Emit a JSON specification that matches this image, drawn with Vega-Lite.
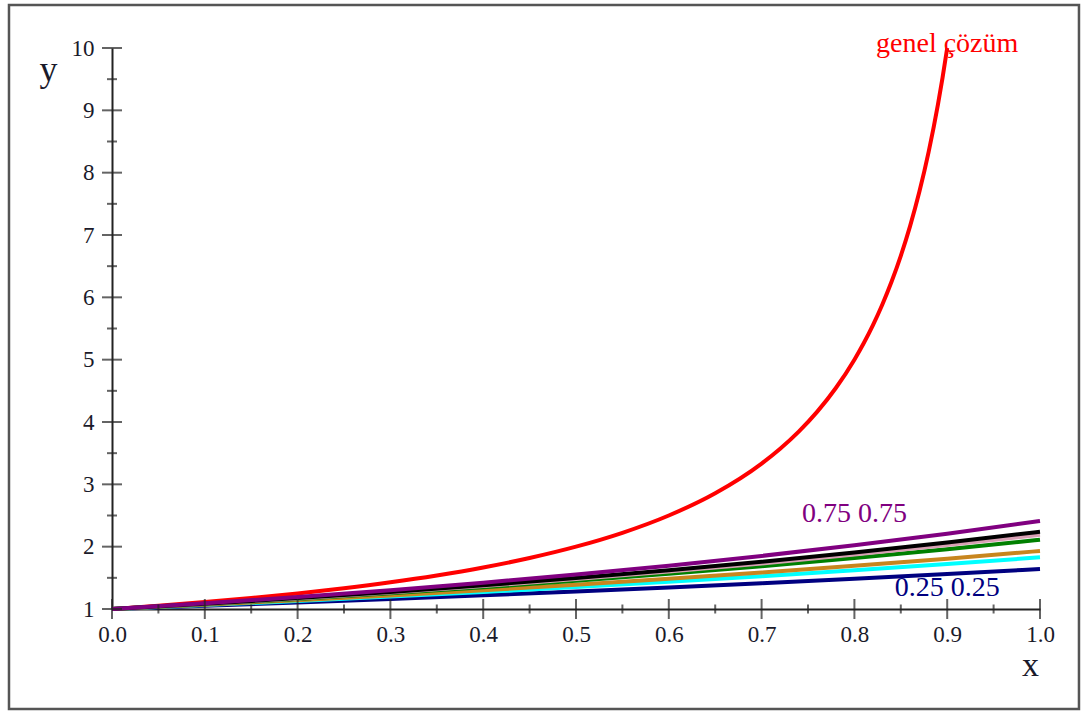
{
  "$schema": "https://vega.github.io/schema/vega-lite/v6.json",
  "width": 928,
  "height": 561,
  "autosize": "none",
  "padding": {"left": 112, "top": 48, "right": 46, "bottom": 104},
  "background": "white",
  "config": {"view": {"stroke": null}, "font": "Liberation Serif"},
  "datasets": {
    "curves": [
      {"s": "genel çözüm", "x": 0, "y": 1}, {"s": "genel çözüm", "x": 0.05, "y": 1.0526}, {"s": "genel çözüm", "x": 0.1, "y": 1.1111}, {"s": "genel çözüm", "x": 0.15, "y": 1.1765}, {"s": "genel çözüm", "x": 0.2, "y": 1.25}, {"s": "genel çözüm", "x": 0.25, "y": 1.3333}, {"s": "genel çözüm", "x": 0.3, "y": 1.4286}, {"s": "genel çözüm", "x": 0.35, "y": 1.5385}, {"s": "genel çözüm", "x": 0.4, "y": 1.6667}, {"s": "genel çözüm", "x": 0.45, "y": 1.8182}, {"s": "genel çözüm", "x": 0.5, "y": 2}, {"s": "genel çözüm", "x": 0.55, "y": 2.2222}, {"s": "genel çözüm", "x": 0.6, "y": 2.5}, {"s": "genel çözüm", "x": 0.65, "y": 2.8571}, {"s": "genel çözüm", "x": 0.7, "y": 3.3333}, {"s": "genel çözüm", "x": 0.72, "y": 3.5714}, {"s": "genel çözüm", "x": 0.74, "y": 3.8462}, {"s": "genel çözüm", "x": 0.76, "y": 4.1667}, {"s": "genel çözüm", "x": 0.78, "y": 4.5455}, {"s": "genel çözüm", "x": 0.8, "y": 5}, {"s": "genel çözüm", "x": 0.81, "y": 5.2632}, {"s": "genel çözüm", "x": 0.82, "y": 5.5556}, {"s": "genel çözüm", "x": 0.83, "y": 5.8824}, {"s": "genel çözüm", "x": 0.84, "y": 6.25}, {"s": "genel çözüm", "x": 0.85, "y": 6.6667}, {"s": "genel çözüm", "x": 0.86, "y": 7.1429}, {"s": "genel çözüm", "x": 0.87, "y": 7.6923}, {"s": "genel çözüm", "x": 0.88, "y": 8.3333}, {"s": "genel çözüm", "x": 0.89, "y": 9.0909}, {"s": "genel çözüm", "x": 0.895, "y": 9.5238}, {"s": "genel çözüm", "x": 0.9, "y": 10},
      {"s": "0.25 0.25", "x": 0, "y": 1}, {"s": "0.25 0.25", "x": 0.1, "y": 1.0507}, {"s": "0.25 0.25", "x": 0.2, "y": 1.1041}, {"s": "0.25 0.25", "x": 0.3, "y": 1.1601}, {"s": "0.25 0.25", "x": 0.4, "y": 1.219}, {"s": "0.25 0.25", "x": 0.5, "y": 1.2808}, {"s": "0.25 0.25", "x": 0.6, "y": 1.3459}, {"s": "0.25 0.25", "x": 0.7, "y": 1.4141}, {"s": "0.25 0.25", "x": 0.8, "y": 1.4859}, {"s": "0.25 0.25", "x": 0.9, "y": 1.5613}, {"s": "0.25 0.25", "x": 1, "y": 1.6405},
      {"s": "s2", "x": 0, "y": 1}, {"s": "s2", "x": 0.1, "y": 1.0623}, {"s": "s2", "x": 0.2, "y": 1.1284}, {"s": "s2", "x": 0.3, "y": 1.1987}, {"s": "s2", "x": 0.4, "y": 1.2733}, {"s": "s2", "x": 0.5, "y": 1.3526}, {"s": "s2", "x": 0.6, "y": 1.4368}, {"s": "s2", "x": 0.7, "y": 1.5263}, {"s": "s2", "x": 0.8, "y": 1.6213}, {"s": "s2", "x": 0.9, "y": 1.7222}, {"s": "s2", "x": 1, "y": 1.8294},
      {"s": "s3", "x": 0, "y": 1}, {"s": "s3", "x": 0.1, "y": 1.068}, {"s": "s3", "x": 0.2, "y": 1.1407}, {"s": "s3", "x": 0.3, "y": 1.2182}, {"s": "s3", "x": 0.4, "y": 1.3011}, {"s": "s3", "x": 0.5, "y": 1.3896}, {"s": "s3", "x": 0.6, "y": 1.4841}, {"s": "s3", "x": 0.7, "y": 1.585}, {"s": "s3", "x": 0.8, "y": 1.6928}, {"s": "s3", "x": 0.9, "y": 1.808}, {"s": "s3", "x": 1, "y": 1.931},
      {"s": "s4", "x": 0, "y": 1}, {"s": "s4", "x": 0.1, "y": 1.0776}, {"s": "s4", "x": 0.2, "y": 1.1611}, {"s": "s4", "x": 0.3, "y": 1.2512}, {"s": "s4", "x": 0.4, "y": 1.3482}, {"s": "s4", "x": 0.5, "y": 1.4528}, {"s": "s4", "x": 0.6, "y": 1.5655}, {"s": "s4", "x": 0.7, "y": 1.6869}, {"s": "s4", "x": 0.8, "y": 1.8177}, {"s": "s4", "x": 0.9, "y": 1.9587}, {"s": "s4", "x": 1, "y": 2.1106},
      {"s": "s5", "x": 0, "y": 1}, {"s": "s5", "x": 0.1, "y": 1.0816}, {"s": "s5", "x": 0.2, "y": 1.1698}, {"s": "s5", "x": 0.3, "y": 1.2652}, {"s": "s5", "x": 0.4, "y": 1.3684}, {"s": "s5", "x": 0.5, "y": 1.4799}, {"s": "s5", "x": 0.6, "y": 1.6006}, {"s": "s5", "x": 0.7, "y": 1.7312}, {"s": "s5", "x": 0.8, "y": 1.8724}, {"s": "s5", "x": 0.9, "y": 2.0251}, {"s": "s5", "x": 1, "y": 2.1903},
      {"s": "s6", "x": 0, "y": 1}, {"s": "s6", "x": 0.1, "y": 1.0839}, {"s": "s6", "x": 0.2, "y": 1.1749}, {"s": "s6", "x": 0.3, "y": 1.2735}, {"s": "s6", "x": 0.4, "y": 1.3804}, {"s": "s6", "x": 0.5, "y": 1.4963}, {"s": "s6", "x": 0.6, "y": 1.6219}, {"s": "s6", "x": 0.7, "y": 1.758}, {"s": "s6", "x": 0.8, "y": 1.9056}, {"s": "s6", "x": 0.9, "y": 2.0656}, {"s": "s6", "x": 1, "y": 2.239},
      {"s": "0.75 0.75", "x": 0, "y": 1}, {"s": "0.75 0.75", "x": 0.1, "y": 1.092}, {"s": "0.75 0.75", "x": 0.2, "y": 1.1924}, {"s": "0.75 0.75", "x": 0.3, "y": 1.3021}, {"s": "0.75 0.75", "x": 0.4, "y": 1.4219}, {"s": "0.75 0.75", "x": 0.5, "y": 1.5527}, {"s": "0.75 0.75", "x": 0.6, "y": 1.6955}, {"s": "0.75 0.75", "x": 0.7, "y": 1.8515}, {"s": "0.75 0.75", "x": 0.8, "y": 2.0218}, {"s": "0.75 0.75", "x": 0.9, "y": 2.2078}, {"s": "0.75 0.75", "x": 1, "y": 2.4109}
    ],
    "labels": [
      {"s": "genel çözüm", "x": 0.9, "y": 9.93},
      {"s": "0.75 0.75", "x": 0.8, "y": 2.4},
      {"s": "0.25 0.25", "x": 0.9, "y": 1.21}
    ],
    "xticks": [
      {"v": 0, "major": true}, {"v": 0.05, "major": false}, {"v": 0.1, "major": true}, {"v": 0.15, "major": false}, {"v": 0.2, "major": true}, {"v": 0.25, "major": false}, {"v": 0.3, "major": true}, {"v": 0.35, "major": false}, {"v": 0.4, "major": true}, {"v": 0.45, "major": false}, {"v": 0.5, "major": true}, {"v": 0.55, "major": false}, {"v": 0.6, "major": true}, {"v": 0.65, "major": false}, {"v": 0.7, "major": true}, {"v": 0.75, "major": false}, {"v": 0.8, "major": true}, {"v": 0.85, "major": false}, {"v": 0.9, "major": true}, {"v": 0.95, "major": false}, {"v": 1, "major": true}
    ],
    "yticks": [
      {"v": 1, "major": true}, {"v": 1.5, "major": false}, {"v": 2, "major": true}, {"v": 2.5, "major": false}, {"v": 3, "major": true}, {"v": 3.5, "major": false}, {"v": 4, "major": true}, {"v": 4.5, "major": false}, {"v": 5, "major": true}, {"v": 5.5, "major": false}, {"v": 6, "major": true}, {"v": 6.5, "major": false}, {"v": 7, "major": true}, {"v": 7.5, "major": false}, {"v": 8, "major": true}, {"v": 8.5, "major": false}, {"v": 9, "major": true}, {"v": 9.5, "major": false}, {"v": 10, "major": true}
    ],
    "frame": [{"id": "frame"}]
  },
  "layer": [
    {
      "data": {"name": "curves"},
      "mark": {"type": "line", "strokeWidth": 4, "interpolate": "monotone", "clip": false},
      "encoding": {
        "x": {
          "field": "x", "type": "quantitative",
          "scale": {"domain": [0, 1], "nice": false, "zero": false},
          "axis": {
            "values": [0, 0.1, 0.2, 0.3, 0.4, 0.5, 0.6, 0.7, 0.8, 0.9, 1],
            "format": ".1f", "ticks": false, "grid": false,
            "domainColor": "#222", "domainWidth": 2,
            "labelFont": "Liberation Serif", "labelFontSize": 23, "labelColor": "#1a1a2a",
            "labelPadding": 14, "labelFlush": false,
            "title": "x", "titleFont": "Liberation Serif", "titleFontSize": 34, "titleFontWeight": "normal", "titleColor": "#1a1a2a",
            "titleX": 918, "titleY": 66, "titleAlign": "center", "titleBaseline": "alphabetic"
          }
        },
        "y": {
          "field": "y", "type": "quantitative",
          "scale": {"domain": [1, 10], "nice": false, "zero": false},
          "axis": {
            "values": [1, 2, 3, 4, 5, 6, 7, 8, 9, 10],
            "format": "d", "ticks": false, "grid": false,
            "domainColor": "#222", "domainWidth": 2,
            "labelFont": "Liberation Serif", "labelFontSize": 23, "labelColor": "#1a1a2a",
            "labelPadding": 18, "labelFlush": false,
            "title": "y", "titleFont": "Liberation Serif", "titleFontSize": 36, "titleFontWeight": "normal", "titleColor": "#1a1a2a",
            "titleAngle": 0, "titleX": -64, "titleY": 32, "titleAlign": "center", "titleBaseline": "alphabetic"
          }
        },
        "color": {
          "field": "s", "type": "nominal", "legend": null,
          "scale": {
            "domain": ["genel çözüm", "0.25 0.25", "s2", "s3", "s4", "s5", "s6", "0.75 0.75"],
            "range": ["#ff0000", "#000080", "#00ffff", "#c8861e", "#008000", "#d8a0b4", "#000000", "#800080"]
          }
        }
      }
    },
    {
      "data": {"name": "frame"},
      "mark": {"type": "rect", "filled": false, "stroke": "#555555", "strokeWidth": 2.5, "clip": false},
      "encoding": {
        "x": {"datum": -0.111, "type": "quantitative"},
        "x2": {"datum": 1.042},
        "y": {"datum": 10.69, "type": "quantitative"},
        "y2": {"datum": -0.604}
      }
    },
    {
      "data": {"name": "xticks"},
      "mark": {"type": "tick", "orient": "vertical", "color": "#222", "thickness": 2, "clip": false},
      "encoding": {
        "x": {"field": "v", "type": "quantitative"},
        "y": {"datum": 1, "type": "quantitative"},
        "size": {"condition": {"test": "datum.major", "value": 20}, "value": 9}
      }
    },
    {
      "data": {"name": "yticks"},
      "mark": {"type": "tick", "orient": "horizontal", "color": "#222", "thickness": 2, "clip": false},
      "encoding": {
        "y": {"field": "v", "type": "quantitative"},
        "x": {"datum": 0, "type": "quantitative"},
        "size": {"condition": {"test": "datum.major", "value": 20}, "value": 10}
      }
    },
    {
      "data": {"name": "labels"},
      "mark": {"type": "text", "font": "Liberation Serif", "fontSize": 28, "align": "center", "baseline": "alphabetic", "clip": false},
      "encoding": {
        "x": {"field": "x", "type": "quantitative"},
        "y": {"field": "y", "type": "quantitative"},
        "text": {"field": "s"},
        "color": {"field": "s", "type": "nominal", "legend": null}
      }
    }
  ]
}
